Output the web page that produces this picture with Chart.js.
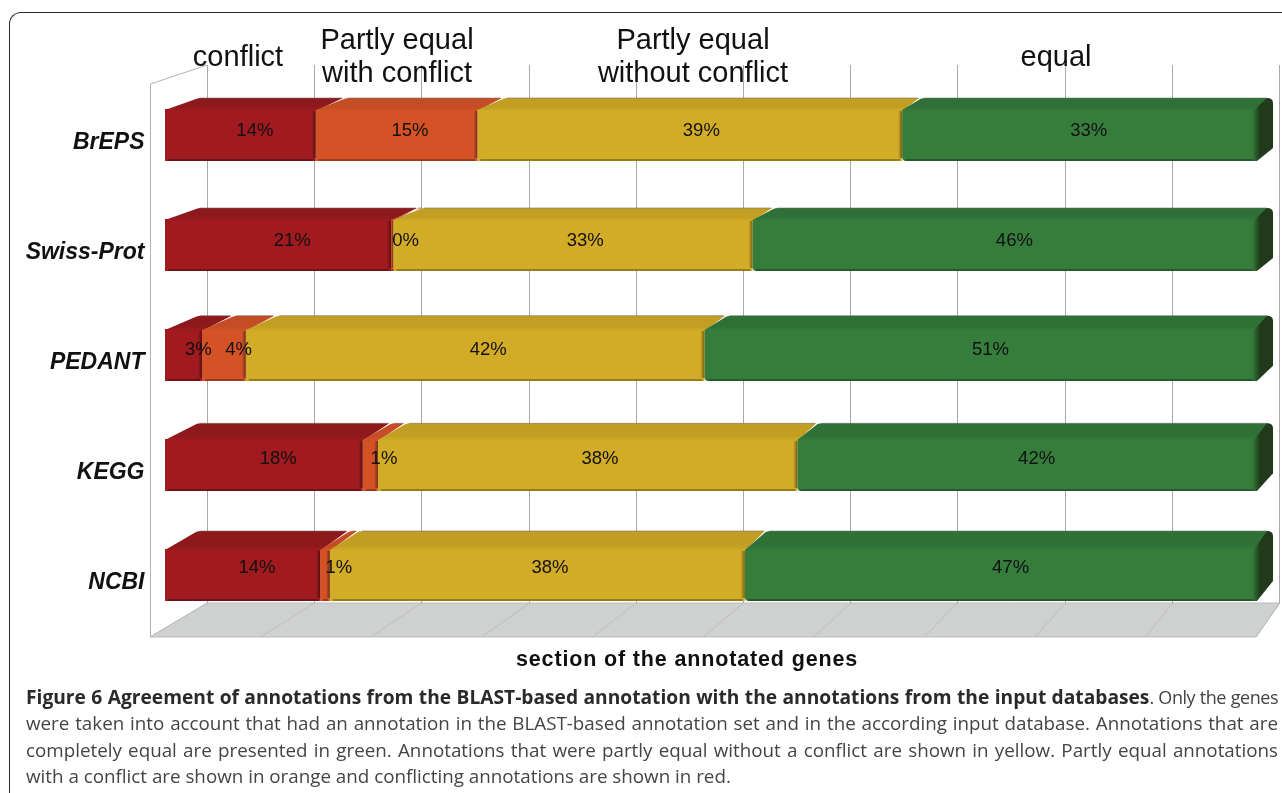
<!DOCTYPE html>
<html><head><meta charset="utf-8">
<script src="https://cdn.jsdelivr.net/npm/chart.js@4"></script>
<style>
html,body{margin:0;padding:0;background:#fff;overflow:hidden;width:1282px;height:793px}
#c{position:absolute;left:0;top:0}
#frame{position:absolute;left:9px;top:12px;width:1290px;height:800px;border-top:1.5px solid #2b2b2b;border-left:1.5px solid #2b2b2b;border-top-left-radius:12px;box-sizing:border-box}
#cap{position:absolute;left:26px;top:684px;width:1252px;font:18.8px/26.4px "Open Sans",sans-serif;color:#444}
#cap div{text-align:justify;text-align-last:justify;white-space:nowrap;height:26.4px}
#cap div.l{text-align-last:left}
#cap b{color:#2a2a2a;font-weight:700;font-size:19.2px}
#cap span{letter-spacing:-.45px;font-size:18px}
</style></head><body>
<div id="frame"></div>
<canvas id="c" width="1282" height="793"></canvas>
<div id="cap">
<div><b>Figure 6 Agreement of annotations from the BLAST-based annotation with the annotations from the input databases</b><span>. Only the genes</span></div>
<div>were taken into account that had an annotation in the BLAST-based annotation set and in the according input database. Annotations that are</div>
<div>completely equal are presented in green. Annotations that were partly equal without a conflict are shown in yellow. Partly equal annotations</div>
<div class="l">with a conflict are shown in orange and conflicting annotations are shown in red.</div>
</div>
<script>
const categories = ["BrEPS","Swiss-Prot","PEDANT","KEGG","NCBI"];
const conflict = [13.8,20.7,3.4,18.1,14.2];
const partlyWithConflict = [14.8,0.2,4.0,1.4,0.9];
const partlyWithoutConflict = [38.9,32.9,42.0,38.4,38.0];
const equal = [32.5,46.2,50.6,42.1,46.9];
const seriesNames = ["conflict","Partly equal with conflict","Partly equal without conflict","equal"];
const frontColors = ["#a01a1f","#d55227","#d2ac26","#367d3c"];
const topColors = ["#8d191c","#c44d25","#c29e23","#2f7036"];
const sideColors = ["#5c0f12","#7d2f14","#7c6514","#213a1b"];
const headers = [
 {lines:["conflict"],x:238,y:[58]},
 {lines:["Partly equal","with conflict"],x:397,y:[41,74]},
 {lines:["Partly equal","without conflict"],x:693,y:[41,74]},
 {lines:["equal"],x:1056,y:[58]}
];
const axisTitle = "section of the annotated genes";
const xTicks = [0,10,20,30,40,50,60,70,80,90,100];

function depthX(xs,px){return 35-19*(px-xs.left)/xs.width;}
function depthY(cy){return 11+Math.max(0,cy-244)*7/331;}

const scene = {
 id:"scene",
 beforeDatasetsDraw(chart){
  const c=chart.ctx;
  const back=v=>207+10.72*v, front=v=>150+11.06*v;
  c.save();
  c.fillStyle="#cfd0d0";c.beginPath();
  c.moveTo(front(0),637);c.lineTo(front(100),637);c.lineTo(back(100)+1,603);c.lineTo(back(0),603);c.closePath();c.fill();
  c.strokeStyle="#bcbcbc";c.lineWidth=1;c.stroke();
  c.strokeStyle="#b0b0b0";
  c.beginPath();c.moveTo(150.5,637);c.lineTo(150.5,84);c.lineTo(back(0),65);c.stroke();
  xTicks.forEach(v=>{
   const bx=Math.round(back(v))+.5;
   c.strokeStyle="#a9a9a9";
   c.beginPath();c.moveTo(bx,65);c.lineTo(bx,603);c.stroke();
   c.strokeStyle="#bdbdbd";
   c.beginPath();c.moveTo(bx,603);c.lineTo(front(v),637);c.stroke();
  });
  c.restore();
 },
 afterDatasetsDraw(chart){
  const c=chart.ctx,xs=chart.scales.x;
  const n=chart.data.datasets.length;
  c.save();
  for(let d=0;d<n;d++){
   chart.getDatasetMeta(d).data.forEach(el=>{
    const x0=el.base,x1=el.x,top=el.y-el.height/2,bot=el.y+el.height/2,dy=depthY(el.y);
    const a=depthX(xs,x0),b=depthX(xs,x1);
    const tg=c.createLinearGradient(0,top-dy,0,top+2);
    tg.addColorStop(0,topColors[d]);tg.addColorStop(.7,topColors[d]);tg.addColorStop(1,frontColors[d]);
    c.fillStyle=tg;c.beginPath();
    c.moveTo(x0,top+1);c.lineTo(x0+a-4,top-dy+1);
    c.quadraticCurveTo(x0+a-2,top-dy,x0+a+1,top-dy);
    c.lineTo(x1+b-5,top-dy);
    c.lineTo(x1,top+2);c.lineTo(x0,top+2);c.closePath();c.fill();
    c.strokeStyle="rgba(110,110,110,.55)";c.lineWidth=1;
    c.beginPath();c.moveTo(x0+a,top-dy);c.lineTo(x1+b-6,top-dy);c.stroke();
    const w=Math.min(4,x1-x0);
    if(w>0.5){
     const g=c.createLinearGradient(x1-w,0,x1,0);
     g.addColorStop(0,"rgba(0,0,0,0)");g.addColorStop(1,"rgba(0,0,0,.45)");
     c.fillStyle=g;c.fillRect(x1-w,top+2,w,el.height-5);
    }
    c.fillStyle="rgba(0,0,0,.28)";c.fillRect(x0+3,bot-2,x1-x0-5,2);
    if(d===n-1){
     const sg=c.createLinearGradient(x1-5,0,x1+3,0);
     sg.addColorStop(0,frontColors[d]);sg.addColorStop(1,sideColors[d]);
     c.fillStyle=sg;c.beginPath();
     c.moveTo(x1-4,top+2);c.lineTo(x1+b-6,top-dy);c.quadraticCurveTo(x1+b,top-dy,x1+b,top-dy+5);
     c.lineTo(x1+b,bot-dy-2);c.lineTo(x1,bot);c.lineTo(x1-4,bot);c.closePath();c.fill();
    }
   });
  }
  c.fillStyle="#111";c.font='18.5px "Liberation Sans"';c.textAlign="center";c.textBaseline="middle";
  for(let d=0;d<n;d++){
   const ds=chart.data.datasets[d];
   chart.getDatasetMeta(d).data.forEach((el,i)=>{
    const mid=(el.base+el.x)/2, f=(mid-xs.left)/xs.width;
    c.fillText(Math.round(ds.data[i])+"%",mid+depthX(xs,mid)/2-2.5*(1-f),el.y-depthY(el.y)/2+1.5);
   });
  }
  c.font='29px "Liberation Sans"';c.fillStyle="#111";
  headers.forEach(h=>h.lines.forEach((t,i)=>c.fillText(t,h.x,h.y[i])));
  c.font='bold 21.5px "Liberation Sans"';c.fillStyle="#111";
  if("letterSpacing" in c)c.letterSpacing="0.85px";
  c.fillText(axisTitle,687,660);
  c.restore();
 }
};

const rows=[conflict,partlyWithConflict,partlyWithoutConflict,equal];
new Chart(document.getElementById("c"),{
 type:"bar",
 plugins:[scene],
 data:{labels:categories,datasets:rows.map((data,i)=>({
  label:seriesNames[i],data,backgroundColor:frontColors[i],borderWidth:0,
  borderRadius:4,borderSkipped:false,barPercentage:52/110,categoryPercentage:1
 }))},
 options:{
  indexAxis:"y",responsive:false,animation:false,devicePixelRatio:1,
  layout:{padding:{top:80,right:25,bottom:163,left:0}},
  plugins:{legend:{display:false},title:{display:false},tooltip:{enabled:false}},
  scales:{
   x:{stacked:true,min:0,max:100,display:false},
   y:{stacked:true,afterFit(s){s.width=165;},
    grid:{display:false},border:{display:false},
    ticks:{color:"#111",padding:12.5,labelOffset:8,font:{family:"Liberation Sans",size:23,weight:"bold",style:"italic"}}}
  }
 }
});
</script>
</body></html>
